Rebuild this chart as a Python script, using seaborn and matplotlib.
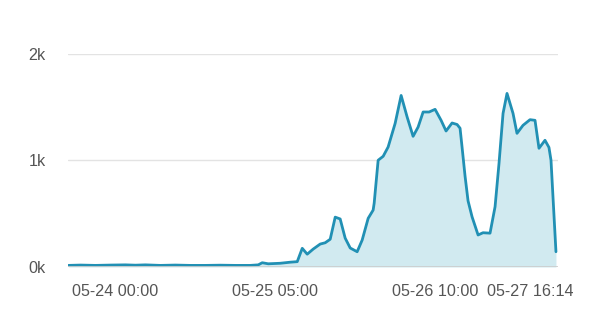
import matplotlib
matplotlib.use("Agg")
import matplotlib.pyplot as plt
import seaborn as sns
import pandas as pd

# hours relative to 05-24 00:00
hours = [-8.52, -6.34, -3.63, -0.91, 1.81, 3.63, 5.44, 8.16, 10.88, 13.59,
         16.31, 19.03, 21.75, 24.47, 25.92, 26.64, 27.73, 29.91, 31.72, 32.99,
         33.90, 34.80, 35.89, 37.16, 38.06, 38.97, 39.88, 40.78, 41.69, 42.60,
         43.86, 44.77, 45.86, 46.76, 46.95, 47.31, 47.67, 48.58, 49.48, 50.75,
         51.84, 52.93, 54.01, 54.92, 55.83, 56.91, 58.00, 59.09, 59.99, 61.08,
         61.99, 62.53, 62.90, 63.44, 63.98, 64.71, 65.80, 66.70, 67.97, 68.88,
         69.60, 70.33, 71.05, 72.14, 72.86, 73.95, 75.22, 76.13, 76.85, 77.94,
         78.66, 79.03, 79.39, 79.93]
values = [15, 18, 15, 18, 20, 17, 20, 15, 18, 15,
          15, 17, 15, 15, 20, 40, 30, 35, 45, 50,
          175, 120, 168, 215, 227, 260, 467, 450, 270, 178,
          143, 252, 456, 533, 598, 800, 1000, 1037, 1124, 1345,
          1607, 1405, 1224, 1311, 1452, 1452, 1477, 1374, 1274, 1349,
          1335, 1300, 1120, 850, 620, 470, 300, 321, 317, 564,
          972, 1439, 1626, 1439, 1252, 1327, 1380, 1374, 1112, 1187,
          1120, 1000, 657, 143]

tick_pos = [0, 29, 58, 75.2]
tick_labels = ["05-24 00:00", "05-25 05:00", "05-26 10:00", "05-27 16:14"]
ytick_vals = [0, 1000, 2000]
ytick_labels = ["0k", "1k", "2k"]

df = pd.DataFrame({"h": hours, "v": values})

sns.set_style("white")
plt.rcParams["font.family"] = ["Liberation Sans", "DejaVu Sans"]

fig = plt.figure(figsize=(5.92, 3.24), dpi=100)
ax = fig.add_axes([68 / 592, (324 - 267) / 324, 490 / 592, 213.5 / 324])

line_color = "#2190b4"
ax.fill_between(df["h"], df["v"], 0, color="#d1eaf0", lw=0, zorder=1)
sns.lineplot(data=df, x="h", y="v", ax=ax, color=line_color, lw=2.0, zorder=3)

ax.set_xlim(-8.6, 80.3)
ax.set_ylim(0, 2000)
ax.set_yticks(ytick_vals)
ax.set_yticklabels(ytick_labels)
ax.set_xticks(tick_pos)
ax.set_xticklabels(tick_labels)
ax.set_xlabel("")
ax.set_ylabel("")

for y in ytick_vals[1:]:
    ax.axhline(y, color="#e3e3e3", lw=1.0, zorder=0)
ax.axhline(0, color="#cccccc", lw=1.2, zorder=4)

for s in ax.spines.values():
    s.set_visible(False)

ax.tick_params(axis="both", length=0, labelsize=11.6, labelcolor="#555555")
ax.tick_params(axis="y", pad=16)
ax.tick_params(axis="x", pad=12)

fig.savefig("out.png", dpi=100)
